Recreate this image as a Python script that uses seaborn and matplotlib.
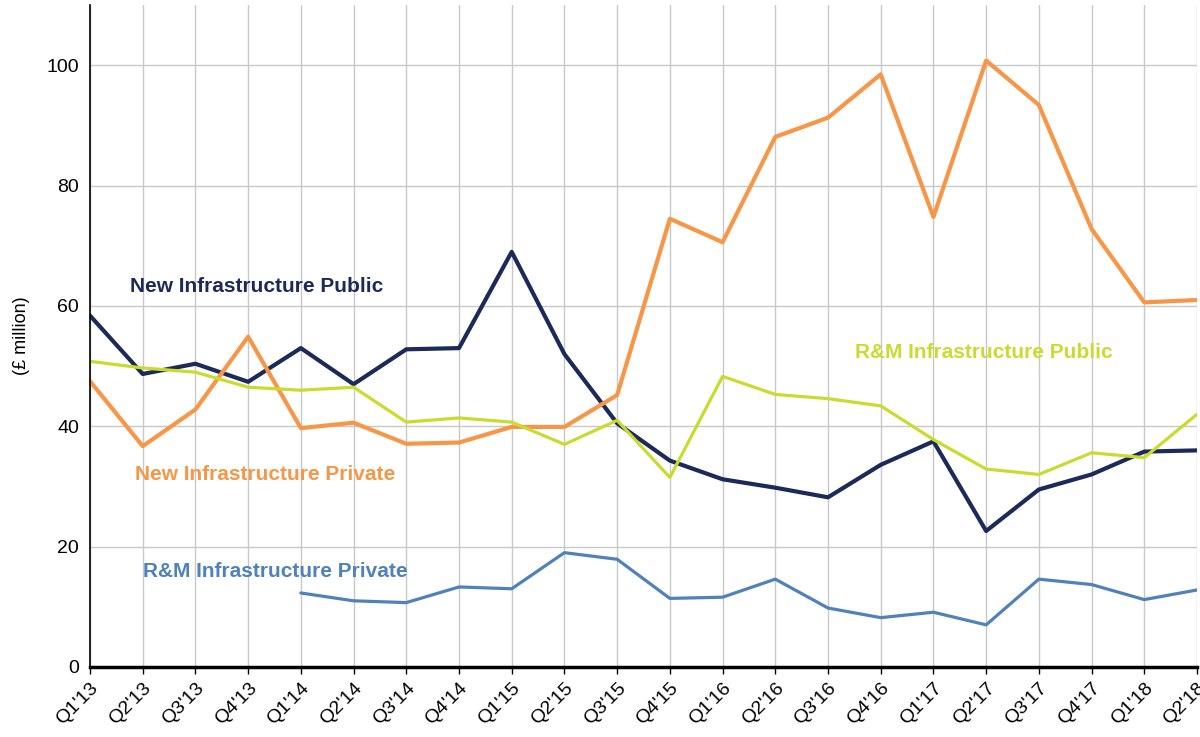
import matplotlib
matplotlib.use('Agg')
import matplotlib.pyplot as plt
import seaborn as sns
import pandas as pd
import numpy as np

quarters = ["Q1'13", "Q2'13", "Q3'13", "Q4'13", "Q1'14", "Q2'14", "Q3'14", "Q4'14",
            "Q1'15", "Q2'15", "Q3'15", "Q4'15", "Q1'16", "Q2'16", "Q3'16", "Q4'16",
            "Q1'17", "Q2'17", "Q3'17", "Q4'17", "Q1'18", "Q2'18"]

new_public = [58.4, 48.7, 50.4, 47.4, 53.0, 47.0, 52.8, 53.0, 69.0, 52.0, 40.5,
              34.3, 31.2, 29.8, 28.2, 33.6, 37.5, 22.6, 29.5, 32.0, 35.8, 36.0]
new_private = [47.5, 36.7, 42.8, 54.9, 39.7, 40.6, 37.1, 37.3, 39.9, 39.9, 45.2,
               74.5, 70.6, 88.1, 91.3, 98.5, 74.8, 100.8, 93.4, 72.8, 60.6, 61.0]
rm_public = [50.8, 49.7, 49.0, 46.5, 46.0, 46.5, 40.7, 41.4, 40.7, 37.0, 41.0,
             31.5, 48.3, 45.3, 44.6, 43.4, 37.8, 32.9, 32.0, 35.6, 34.8, 42.0]
rm_private = [np.nan, np.nan, np.nan, np.nan, 12.3, 11.0, 10.7, 13.3, 13.0, 19.0, 17.9,
              11.4, 11.6, 14.6, 9.8, 8.2, 9.1, 7.0, 14.6, 13.7, 11.2, 12.8]

# Series styling: name, values, colour, line width, label position
series = [
    ('New Infrastructure Public', new_public, '#1c2a5a', 3.0, (0.76, 63.2)),
    ('New Infrastructure Private', new_private, '#f79646', 3.0, (0.85, 32.0)),
    ('R&M Infrastructure Public', rm_public, '#c9dc2e', 2.3, (14.52, 52.2)),
    ('R&M Infrastructure Private', rm_private, '#4f81bd', 2.3, (1.0, 15.9)),
]

sns.set_style('white')
plt.rcParams['font.family'] = ['Liberation Sans', 'DejaVu Sans']

fig, ax = plt.subplots(figsize=(12, 7.37), dpi=100)
fig.subplots_adjust(left=0.075, right=0.9975, top=0.993, bottom=0.095)

x = np.arange(len(quarters))
for name, vals, color, lw, (tx, ty) in series:
    df = pd.DataFrame({'x': x, 'y': vals}).dropna()
    sns.lineplot(data=df, x='x', y='y', color=color, linewidth=lw, ax=ax)
    ax.text(tx, ty, name, color=color, fontsize=15, fontweight='bold',
            ha='left', va='center')

ax.set_xlim(0, len(quarters) - 1)
ax.set_ylim(0, 110)
ax.set_yticks(range(0, 101, 20))
ax.set_xticks(x)
ax.set_xticklabels(quarters, rotation=45, ha='right', rotation_mode='anchor', fontsize=14)
ax.tick_params(axis='y', labelsize=14, length=0, pad=8, labelcolor='black')
ax.tick_params(axis='x', length=5, width=1, direction='out', bottom=True, pad=4,
               color='black', labelcolor='black')
ax.set_xlabel('')
ax.set_ylabel('(£ million)', fontsize=13, labelpad=12, color='black')

ax.grid(True, color='#c8c8c8', linewidth=1)
ax.set_axisbelow(True)
for s in ['top', 'right']:
    ax.spines[s].set_visible(False)
ax.spines['left'].set_color('black')
ax.spines['left'].set_linewidth(1.2)
ax.spines['bottom'].set_color('black')
ax.spines['bottom'].set_linewidth(2.5)

plt.savefig('out.png', dpi=100)
